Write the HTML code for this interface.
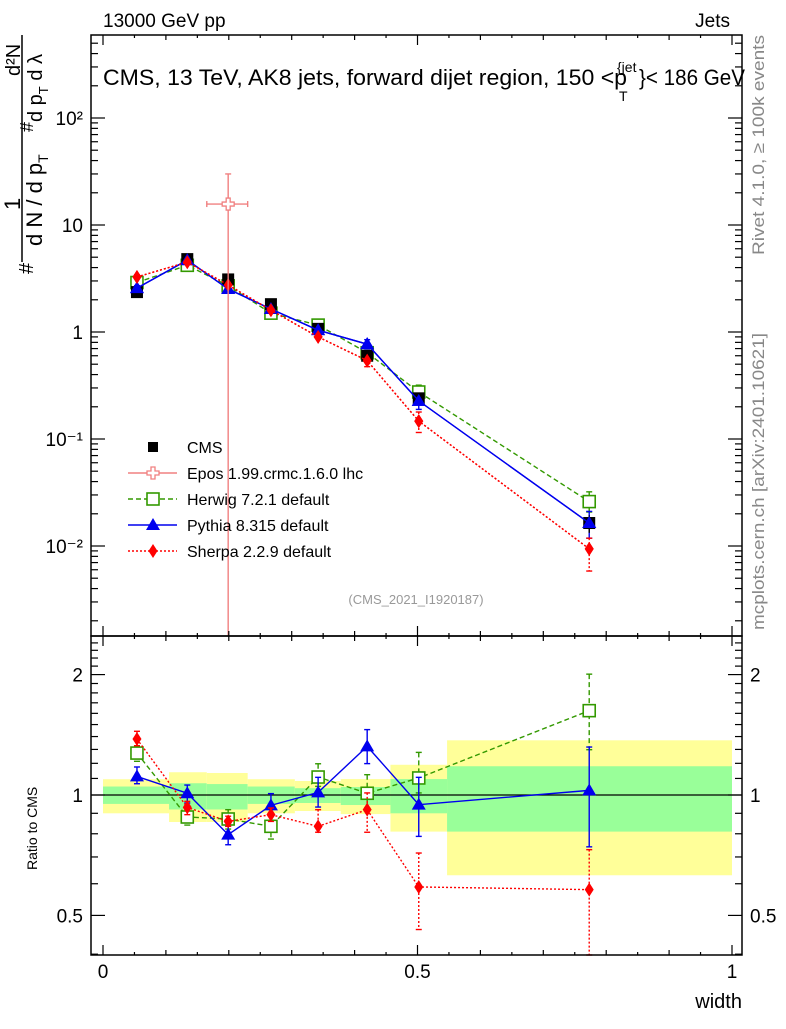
<!DOCTYPE html>
<html><head><meta charset="utf-8"><style>
body{margin:0;background:#fff;}
svg text{font-family:"Liberation Sans",sans-serif;}
</style></head><body>
<svg id="chart" width="786" height="1024" viewBox="0 0 786 1024" xmlns="http://www.w3.org/2000/svg">
<text x="103" y="27" font-size="19">13000 GeV pp</text>
<text x="730" y="27" font-size="19" text-anchor="end">Jets</text>
<g>
<text x="103" y="85" font-size="22" textLength="524" lengthAdjust="spacingAndGlyphs">CMS, 13 TeV, AK8 jets, forward dijet region, 150 &lt;p</text>
<text x="617" y="72" font-size="14">{jet</text>
<text x="619" y="101" font-size="14">T</text>
<text x="639" y="85" font-size="22" textLength="106" lengthAdjust="spacingAndGlyphs">}&lt; 186 GeV</text>
</g>
<g>
<text transform="translate(33,274) rotate(-90)" font-size="20">#</text>
<line x1="22" y1="262" x2="22" y2="35" stroke="#000" stroke-width="1.5"/>
<text transform="translate(20,210) rotate(-90)" font-size="22">1</text>
<text transform="translate(42,246) rotate(-90)" font-size="22">d N / d p<tspan font-size="14" dy="6">T</tspan></text>
<text transform="translate(33,132) rotate(-90)" font-size="18">#</text>
<text transform="translate(20,76) rotate(-90)" font-size="20">d²N</text>
<text transform="translate(42,122) rotate(-90)" font-size="20">d p<tspan font-size="13" dy="6">T</tspan><tspan dy="-6"> d λ</tspan></text>
</g>
<text transform="translate(37,870) rotate(-90)" font-size="14">Ratio to CMS</text>
<text x="742" y="1008" font-size="20" text-anchor="end">width</text>
<text transform="translate(764,255) rotate(-90)" font-size="17" fill="#888" textLength="220" lengthAdjust="spacingAndGlyphs">Rivet 4.1.0, ≥ 100k events</text>
<text transform="translate(764,630) rotate(-90)" font-size="17" fill="#888" textLength="297" lengthAdjust="spacingAndGlyphs">mcplots.cern.ch [arXiv:2401.10621]</text>
<text x="416" y="604" font-size="13" fill="#999" text-anchor="middle">(CMS_2021_I1920187)</text>
<g id="bands"></g>
<g id="lines"></g>
<g id="axes"></g>
<g id="legend"></g>
</svg>
<script>
const xCenters=[0.054,0.134,0.199,0.267,0.342,0.42,0.502,0.773];
const binEdges=[0,0.105,0.165,0.23,0.305,0.378,0.457,0.547,1.0];
const cmsValues=[2.36,4.8,3.1,1.82,1.07,0.6,0.24,0.0164];
const yellowUp=[1.095,1.14,1.135,1.095,1.084,1.096,1.19,1.37];
const yellowDn=[0.90,0.856,0.856,0.90,0.912,0.896,0.81,0.63];
const greenUp=[1.05,1.07,1.065,1.05,1.04,1.047,1.096,1.18];
const greenDn=[0.95,0.92,0.92,0.95,0.955,0.944,0.90,0.81];
const herwigMain=[2.9,4.2,2.7,1.5,1.16,0.64,0.275,0.026];
const pythiaMain=[2.57,4.7,2.52,1.64,1.04,0.77,0.227,0.0164];
const sherpaMain=[3.27,4.5,2.75,1.6,0.9,0.54,0.147,0.0094];
const herwigRatio=[1.273,0.881,0.871,0.835,1.109,1.01,1.103,1.625];
const herwigRatioHi=[1.328,0.919,0.919,0.885,1.197,1.124,1.278,2.005];
const herwigRatioLo=[1.214,0.841,0.822,0.776,1.051,0.928,1.012,1.298];
const pythiaRatio=[1.113,1.01,0.796,0.942,1.015,1.323,0.946,1.027];
const pythiaRatioHi=[1.175,1.059,0.835,1.008,1.107,1.457,1.107,1.318];
const pythiaRatioLo=[1.067,0.955,0.751,0.885,0.933,1.198,0.788,0.742];
const sherpaRatio=[1.38,0.931,0.859,0.893,0.835,0.919,0.589,0.58];
const sherpaRatioHi=[1.443,0.964,0.885,0.928,0.919,1.012,0.716,0.73];
const sherpaRatioLo=[1.328,0.893,0.835,0.859,0.807,0.807,0.461,0.36];
const eposX=[0.199];const eposXLo=[0.165];const eposXHi=[0.23];
const eposMain=[15.7];const eposHi=[30];const eposLo=[0.0001];
const mainTicks=[0.01,0.1,1,10,100];
const mainTickLabels=["10⁻²","10⁻¹","1","10","10²"];
const ratioTicks=[0.5,1,2];
const ratioTickLabels=["0.5","1","2"];
const xTicks=[0,0.5,1];const xTickLabels=["0","0.5","1"];

const NS="http://www.w3.org/2000/svg";
const L=91,R=742,T=35,M=636,B=955;
const X=v=>103+629*v;
const YM=v=>{let y=332-107*Math.log10(v);return Math.max(T,Math.min(M,y));};
const YR=v=>{let y=795-400*Math.log10(v);return Math.max(M,Math.min(B,y));};
function mk(tag,attrs,parent){const e=document.createElementNS(NS,tag);for(const k in attrs)e.setAttribute(k,attrs[k]);parent.appendChild(e);return e;}
const bands=document.getElementById('bands'),lines=document.getElementById('lines'),axes=document.getElementById('axes'),leg=document.getElementById('legend');
for(let i=0;i<xCenters.length;i++){
 let r=mk('rect',{x:X(binEdges[i]),y:YR(yellowUp[i]),width:X(binEdges[i+1])-X(binEdges[i]),height:YR(yellowDn[i])-YR(yellowUp[i]),fill:'#ffff99'},bands);
 
 
 let g=mk('rect',{x:X(binEdges[i]),y:YR(greenUp[i]),width:X(binEdges[i+1])-X(binEdges[i]),height:YR(greenDn[i])-YR(greenUp[i]),fill:'#99ff99'},bands);
 
 
}
mk('line',{x1:L,x2:R,y1:YR(1),y2:YR(1),stroke:'#000','stroke-width':1.3},bands);
function marker(kind,x,y,col,par){
 if(kind==='sq')return mk('rect',{x:x-6,y:y-6,width:12,height:12,fill:'#000'},par);
 if(kind==='osq')return mk('rect',{x:x-6,y:y-6,width:12,height:12,fill:'#fff',stroke:col,'stroke-width':1.6},par);
 if(kind==='tri')return mk('polygon',{points:`${x},${y-7} ${x-7},${y+5} ${x+7},${y+5}`,fill:col},par);
 if(kind==='dia')return mk('polygon',{points:`${x},${y-7} ${x-4.5},${y} ${x},${y+7} ${x+4.5},${y}`,fill:col},par);
 if(kind==='cross')return mk('path',{d:`M${x-2},${y-6}h4v4h4v4h-4v4h-4v-4h-4v-4h4z`,fill:'#fff',stroke:col,'stroke-width':1.3},par);
}
function series(name,vals,hi,lo,Y,col,dash,kind){
 const g=mk('g',{},lines);
 
 
 mk('polyline',{points:vals.map((v,i)=>X(xCenters[i])+','+Y(v)).join(' '),fill:'none',stroke:col,'stroke-width':1.4,'stroke-dasharray':dash},g);
 vals.forEach((v,i)=>{const x=X(xCenters[i]);
  mk('line',{x1:x,x2:x,y1:Y(hi[i]),y2:Y(lo[i]),stroke:col,'stroke-width':1.4,'stroke-dasharray':dash},g);
  mk('line',{x1:x-3,x2:x+3,y1:Y(hi[i]),y2:Y(hi[i]),stroke:col,'stroke-width':1.4},g);
  mk('line',{x1:x-3,x2:x+3,y1:Y(lo[i]),y2:Y(lo[i]),stroke:col,'stroke-width':1.4},g);
  const m=marker(kind,x,Y(v),col,g);
  
  
 });
}
const scale=(arr,r,e)=>arr.map((v,i)=>v*e[i]/r[i]);
series('herwig-main',herwigMain,scale(herwigMain,herwigRatio,herwigRatioHi),scale(herwigMain,herwigRatio,herwigRatioLo),YM,'#339900','5,3','osq');
series('pythia-main',pythiaMain,scale(pythiaMain,pythiaRatio,pythiaRatioHi),scale(pythiaMain,pythiaRatio,pythiaRatioLo),YM,'#0000ee','','tri');
series('sherpa-main',sherpaMain,scale(sherpaMain,sherpaRatio,sherpaRatioHi),scale(sherpaMain,sherpaRatio,sherpaRatioLo),YM,'#ff0000','2,2','dia');
const cg=mk('g',{},lines);


cmsValues.forEach((v,i)=>{const x=X(xCenters[i]);
 mk('line',{x1:x,x2:x,y1:YM(v*greenUp[i]),y2:YM(v*greenDn[i]),stroke:'#000','stroke-width':1.4},cg);
 const m=marker('sq',x,YM(v),'#000',cg);
 
 
});
series('pythia-main-top',pythiaMain,pythiaMain,pythiaMain,YM,'#0000ee','','tri');
series('sherpa-main-top',sherpaMain,sherpaMain,sherpaMain,YM,'#ff0000','2,2','dia');
const eg=mk('g',{},lines);


eposMain.forEach((v,i)=>{const x=X(eposX[i]),y=YM(v);
 mk('line',{x1:x,x2:x,y1:YM(eposHi[i]),y2:YM(eposLo[i]),stroke:'#f08080','stroke-width':1.4},eg);
 mk('line',{x1:X(eposXLo[i]),x2:X(eposXHi[i]),y1:y,y2:y,stroke:'#f08080','stroke-width':1.4},eg);
 mk('line',{x1:x-3,x2:x+3,y1:YM(eposHi[i]),y2:YM(eposHi[i]),stroke:'#f08080','stroke-width':1.4},eg);
 mk('line',{x1:X(eposXLo[i]),x2:X(eposXLo[i]),y1:y-3,y2:y+3,stroke:'#f08080','stroke-width':1.4},eg);
 mk('line',{x1:X(eposXHi[i]),x2:X(eposXHi[i]),y1:y-3,y2:y+3,stroke:'#f08080','stroke-width':1.4},eg);
 const m=marker('cross',x,y,'#f08080',eg);
 
 
});
series('herwig-ratio',herwigRatio,herwigRatioHi,herwigRatioLo,YR,'#339900','5,3','osq');
series('pythia-ratio',pythiaRatio,pythiaRatioHi,pythiaRatioLo,YR,'#0000ee','','tri');
series('sherpa-ratio',sherpaRatio,sherpaRatioHi,sherpaRatioLo,YR,'#ff0000','2,2','dia');
mk('rect',{x:L,y:T,width:R-L,height:M-T,fill:'none',stroke:'#000','stroke-width':1.5},axes);
mk('rect',{x:L,y:M,width:R-L,height:B-M,fill:'none',stroke:'#000','stroke-width':1.5},axes);
const tk=(x1,y1,x2,y2)=>mk('line',{x1,y1,x2,y2,stroke:'#000','stroke-width':1.2},axes);
for(let d=-3;d<=2;d++)for(let k=1;k<=9;k++){const v=k*Math.pow(10,d);const y=332-107*Math.log10(v);if(y<T||y>M)continue;const len=k===1?14:7;tk(L,y,L+len,y);tk(R,y,R-len,y);}
mainTicks.forEach((v,i)=>{const t=mk('text',{x:L-8,y:YM(v)+7,'font-size':19,'text-anchor':'end'},axes);t.textContent=mainTickLabels[i];
 
 });
for(let v=0.4;v<=2.45;v+=0.1){const y=YR(v);if(y<=M||y>=B)continue;const big=[0.5,1,2].some(a=>Math.abs(a-v)<1e-6);tk(L,y,L+(big?14:7),y);tk(R,y,R-(big?14:7),y);}
ratioTicks.forEach((v,i)=>{for(const [x,a] of [[L-8,'end'],[R+8,'start']]){const t=mk('text',{x,y:YR(v)+7,'font-size':19,'text-anchor':a},axes);t.textContent=ratioTickLabels[i];
 
 }});
for(let k=0;k<=20;k++){const v=k*0.05;const x=X(v);const len=k%10===0?10:(k%2===0?5:3);
 tk(x,B,x,B-len);tk(x,M,x,M-len);tk(x,M,x,M+len);tk(x,T,x,T+len);}
xTicks.forEach((v,i)=>{const t=mk('text',{x:X(v),y:B+23,'font-size':19,'text-anchor':'middle'},axes);t.textContent=xTickLabels[i];
 
 });
const legItems=[['CMS','#000','','sq',false],['Epos 1.99.crmc.1.6.0 lhc','#f08080','','cross',true],['Herwig 7.2.1 default','#339900','5,3','osq',true],['Pythia 8.315 default','#0000ee','','tri',true],['Sherpa 2.2.9 default','#ff0000','2,2','dia',true]];
legItems.forEach((it,i)=>{const y=447+26*i;const g=mk('g',{},leg);
 
 
 if(it[4])mk('line',{x1:128,x2:177,y1:y,y2:y,stroke:it[1],'stroke-width':1.4,'stroke-dasharray':it[2]},g);
 if(it[3]==='sq')mk('rect',{x:148,y:y-5,width:10,height:10,fill:'#000'},g);else marker(it[3],153,y,it[1],g);
 const t=mk('text',{x:187,y:y+6,'font-size':16},g);t.textContent=it[0];});
</script>
</body></html>
